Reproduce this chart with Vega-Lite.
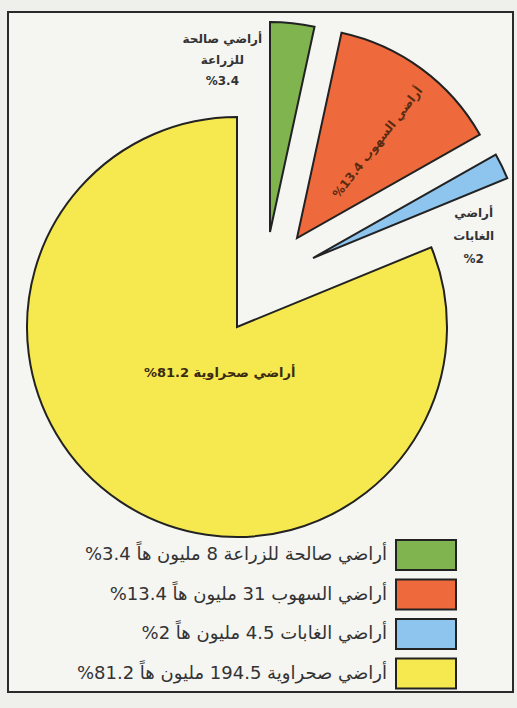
{
  "$schema": "https://vega.github.io/schema/vega-lite/v6.json",
  "width": 505,
  "height": 680,
  "autosize": {"type": "none"},
  "padding": {"left": 8, "top": 12, "right": 4, "bottom": 16},
  "background": "#efefec",
  "config": {
    "view": {"stroke": null},
    "text": {"font": "DejaVu Sans"}
  },
  "data": {
    "values": [
      {"idx": 1, "key": "green", "value": 3.4, "legend": "أراضي صالحة للزراعة 8 مليون هاً 3.4%‏", "label": ["أراضي صالحة", "للزراعة", "%3.4"]},
      {"idx": 2, "key": "orange", "value": 13.4, "legend": "أراضي السهوب 31 مليون هاً 13.4%‏", "label": "أراضي السهوب 13.4%‏"},
      {"idx": 3, "key": "blue", "value": 2, "legend": "أراضي الغابات 4.5 مليون هاً 2%‏", "label": ["أراضي", "الغابات", "%2"]},
      {"idx": 4, "key": "yellow", "value": 81.2, "legend": "أراضي صحراوية 194.5 مليون هاً 81.2%‏", "label": "أراضي صحراوية 81.2%‏"}
    ]
  },
  "layer": [
    {
      "transform": [{"aggregate": [{"op": "count", "as": "n"}]}],
      "mark": {"type": "rect", "fill": "#f5f5f2", "stroke": "#2a2a2a", "strokeWidth": 2},
      "encoding": {}
    },
    {
      "mark": {"type": "arc", "outerRadius": 210, "xOffset": -23.5, "yOffset": -25, "stroke": "#222", "strokeWidth": 2},
      "encoding": {
        "theta": {"field": "value", "type": "quantitative", "stack": true},
        "order": {"field": "idx", "type": "quantitative"},
        "color": {
          "field": "legend", "type": "nominal",
          "scale": {
            "domain": ["أراضي صالحة للزراعة 8 مليون هاً 3.4%‏", "أراضي السهوب 31 مليون هاً 13.4%‏", "أراضي الغابات 4.5 مليون هاً 2%‏", "أراضي صحراوية 194.5 مليون هاً 81.2%‏"],
            "range": ["#80b44f", "#ee6a3c", "#8ec5ee", "#f6e94f"]
          },
          "legend": {
            "orient": "none", "legendX": 402, "legendY": 527, "title": null, "direction": "vertical",
            "symbolType": "M-2,-1H2V1H-2Z", "symbolSize": 900,
            "symbolStrokeColor": "#222", "symbolStrokeWidth": 2, "symbolOpacity": 1,
            "labelAlign": "right", "labelOffset": -55, "labelFontSize": 18, "labelFont": "DejaVu Sans",
            "labelColor": "#333", "labelLimit": 0, "rowPadding": 1.5, "padding": 0,
            "encode": {"symbols": {"update": {"stroke": {"value": "#222"}, "strokeWidth": {"value": 2}, "opacity": {"value": 1}}}}
          }
        },
        "opacity": {"condition": {"test": "datum.key === 'yellow'", "value": 1}, "value": 0}
      }
    },
    {
      "mark": {"type": "arc", "outerRadius": 210, "xOffset": 9.5, "yOffset": -120, "stroke": "#222", "strokeWidth": 2},
      "encoding": {
        "theta": {"field": "value", "type": "quantitative", "stack": true},
        "order": {"field": "idx", "type": "quantitative"},
        "color": {"field": "legend", "type": "nominal"},
        "opacity": {"condition": {"test": "datum.key === 'green'", "value": 1}, "value": 0}
      }
    },
    {
      "mark": {"type": "arc", "outerRadius": 210, "xOffset": 36.5, "yOffset": -114, "stroke": "#222", "strokeWidth": 2},
      "encoding": {
        "theta": {"field": "value", "type": "quantitative", "stack": true},
        "order": {"field": "idx", "type": "quantitative"},
        "color": {"field": "legend", "type": "nominal"},
        "opacity": {"condition": {"test": "datum.key === 'orange'", "value": 1}, "value": 0}
      }
    },
    {
      "mark": {"type": "arc", "outerRadius": 210, "xOffset": 52.5, "yOffset": -94, "stroke": "#222", "strokeWidth": 2},
      "encoding": {
        "theta": {"field": "value", "type": "quantitative", "stack": true},
        "order": {"field": "idx", "type": "quantitative"},
        "color": {"field": "legend", "type": "nominal"},
        "opacity": {"condition": {"test": "datum.key === 'blue'", "value": 1}, "value": 0}
      }
    },
    {
      "mark": {"type": "text", "radius": 49, "xOffset": -23.5, "yOffset": -25, "dx": 10, "dy": 5, "fontSize": 13, "fontWeight": "bold", "color": "#3a2a10"},
      "encoding": {
        "theta": {"field": "value", "type": "quantitative", "stack": true},
        "order": {"field": "idx", "type": "quantitative"},
        "text": {"condition": {"test": "datum.key === 'yellow'", "field": "label"}, "value": ""}
      }
    },
    {
      "mark": {"type": "text", "radius": 172, "xOffset": 9.5, "yOffset": -120, "dx": -66, "dy": -22, "fontSize": 12, "fontWeight": "bold", "lineHeight": 21, "color": "#333"},
      "encoding": {
        "theta": {"field": "value", "type": "quantitative", "stack": true},
        "order": {"field": "idx", "type": "quantitative"},
        "text": {"condition": {"test": "datum.key === 'green'", "field": "label"}, "value": ""}
      }
    },
    {
      "mark": {"type": "text", "radius": 120, "xOffset": 36.5, "yOffset": -114, "dx": 5, "dy": 8, "angle": -52, "fontSize": 12, "fontWeight": "bold", "color": "#5a2a10"},
      "encoding": {
        "theta": {"field": "value", "type": "quantitative", "stack": true},
        "order": {"field": "idx", "type": "quantitative"},
        "text": {"condition": {"test": "datum.key === 'orange'", "field": "label"}, "value": ""}
      }
    },
    {
      "mark": {"type": "text", "radius": 162, "xOffset": 52.5, "yOffset": -94, "dx": 15, "dy": 26, "fontSize": 12, "fontWeight": "bold", "lineHeight": 23, "color": "#333"},
      "encoding": {
        "theta": {"field": "value", "type": "quantitative", "stack": true},
        "order": {"field": "idx", "type": "quantitative"},
        "text": {"condition": {"test": "datum.key === 'blue'", "field": "label"}, "value": ""}
      }
    }
  ]
}
